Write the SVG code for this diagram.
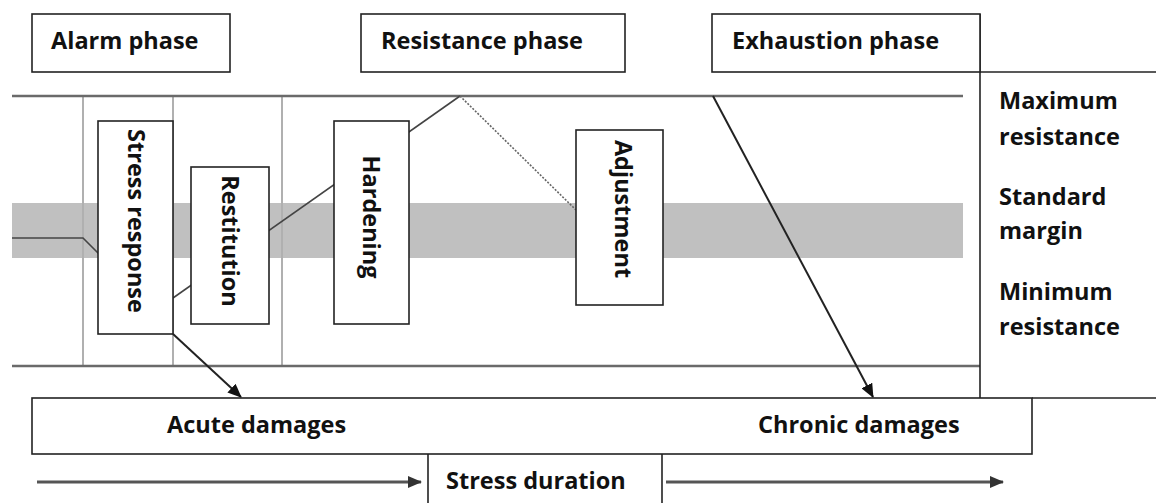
<svg xmlns="http://www.w3.org/2000/svg" width="1156" height="503" viewBox="0 0 1156 503">
<style>
.box{fill:#fff;stroke:#222;stroke-width:1.6}
.t{font-family:"Open Sans","Liberation Sans",sans-serif;font-weight:bold;font-size:23.5px;fill:#111}
.frame{stroke:#222;stroke-width:1.6;fill:none}
.rail{stroke:#6a6a6a;stroke-width:2.5;fill:none}
.grid{stroke:#b0b0b0;stroke-width:2;fill:none}
.curve{stroke:#444;stroke-width:1.6;fill:none}
.dot{stroke:#666;stroke-width:1.6;stroke-dasharray:2 1.5;fill:none}
.arr{stroke:#222;stroke-width:2;fill:none}
.time{stroke:#555;stroke-width:3;fill:none}
</style>
<defs>
<marker id="ah" markerUnits="userSpaceOnUse" markerWidth="14" markerHeight="12" refX="13" refY="6" orient="auto">
<path d="M0,0 L14,6 L0,12 Z" fill="#111"/>
</marker>
<marker id="ah2" markerUnits="userSpaceOnUse" markerWidth="14" markerHeight="12" refX="13" refY="6" orient="auto">
<path d="M0,0 L14,6 L0,12 Z" fill="#333"/>
</marker>
</defs>
<rect width="1156" height="503" fill="#fff"/>

<g id="band">
<rect x="12" y="203" width="951" height="55" fill="#c0c0c0"/>
</g>
<g id="grid">
<line class="grid" x1="83" y1="96" x2="83" y2="366"/>
<line class="grid" x1="173" y1="96" x2="173" y2="366"/>
<line class="grid" x1="282" y1="96" x2="282" y2="366"/>
<line class="rail" x1="12" y1="96" x2="963" y2="96"/>
<line class="rail" x1="12" y1="366" x2="980" y2="366"/>
</g>

<g id="frame">
<line class="frame" x1="980" y1="14" x2="980" y2="398"/>
<line class="frame" x1="980" y1="72" x2="1156" y2="72"/>
<line class="frame" x1="1032" y1="398" x2="1156" y2="398"/>
<line class="frame" x1="428" y1="454" x2="428" y2="503"/>
<line class="frame" x1="662" y1="454" x2="662" y2="503"/>
</g>

<g id="connectors">
<polyline class="curve" points="12,238 83,238 100,255"/>
<line class="curve" x1="173" y1="298" x2="460" y2="96"/>
<line class="dot" x1="460" y1="96" x2="576" y2="210"/>
<line class="arr" x1="173" y1="334" x2="241" y2="397" marker-end="url(#ah)"/>
<line class="arr" x1="713" y1="96" x2="873" y2="397" marker-end="url(#ah)"/>
<line class="time" x1="37" y1="482" x2="421" y2="482" marker-end="url(#ah2)"/>
<line class="time" x1="666" y1="482" x2="1003" y2="482" marker-end="url(#ah2)"/>
</g>

<g id="alarm-phase">
<rect class="box" x="32" y="14" width="198" height="58"/>
<text class="t" x="51" y="49">Alarm phase</text>
</g>
<g id="resistance-phase">
<rect class="box" x="361" y="14" width="264" height="58"/>
<text class="t" x="381" y="49">Resistance phase</text>
</g>
<g id="exhaustion-phase">
<rect class="box" x="712" y="14" width="268" height="58"/>
<text class="t" x="732" y="49">Exhaustion phase</text>
</g>

<g id="stress-response">
<rect class="box" x="98" y="121" width="75" height="213"/>
<text class="t" text-anchor="middle" transform="translate(128,221) rotate(90)">Stress response</text>
</g>
<g id="restitution">
<rect class="box" x="191" y="167" width="78" height="157"/>
<text class="t" text-anchor="middle" transform="translate(222,241) rotate(90)">Restitution</text>
</g>
<g id="hardening">
<rect class="box" x="334" y="121" width="75" height="203"/>
<text class="t" text-anchor="middle" transform="translate(363,217) rotate(90)">Hardening</text>
</g>
<g id="adjustment">
<rect class="box" x="576" y="130" width="87" height="175"/>
<text class="t" text-anchor="middle" transform="translate(615,209) rotate(90)">Adjustment</text>
</g>

<g id="levels">
<text class="t" x="999" y="109">Maximum</text>
<text class="t" x="999" y="145">resistance</text>
<text class="t" x="999" y="205">Standard</text>
<text class="t" x="999" y="239">margin</text>
<text class="t" x="999" y="300">Minimum</text>
<text class="t" x="999" y="335">resistance</text>
</g>

<g id="damages">
<rect class="box" x="32" y="398" width="1000" height="56"/>
<text class="t" x="167" y="433">Acute damages</text>
<text class="t" x="758" y="433">Chronic damages</text>
</g>
<g id="stress-duration">
<text class="t" x="446" y="489">Stress duration</text>
</g>
</svg>
